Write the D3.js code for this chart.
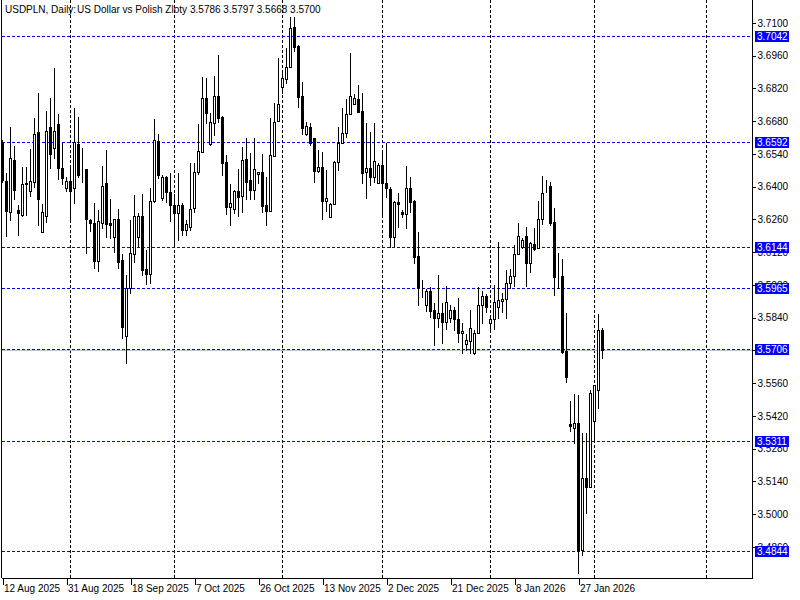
<!DOCTYPE html>
<html>
<head>
<meta charset="utf-8">
<script src="https://cdn.jsdelivr.net/npm/d3@7"></script>
<style>
  body { margin: 0; background: #fff; }
  svg { display: block; }
  text { font-family: "Liberation Sans", Arial, sans-serif; font-size: 10px; }
</style>
</head>
<body>
<div id="container"></div>
<script>
// daily bars, 12 Aug 2025 .. 3 Feb 2026 (broker shows Sunday bars)
const opens = [3.6587,3.6425,3.6292,3.6514,3.6301,3.6279,3.6412,3.6382,3.6420,3.6634,
  3.6207,3.6275,3.6656,3.6566,3.6668,3.6480,3.6395,3.6425,3.6395,3.6583,
  3.6467,3.6476,3.6258,3.6245,3.6083,3.6245,3.6416,3.6245,3.6185,3.6262,
  3.6087,3.5762,3.5967,3.6113,3.6185,3.6275,3.6048,3.6027,3.6339,3.6596,
  3.6352,3.6442,3.6378,3.6322,3.6288,3.6322,3.6215,3.6228,3.6309,3.6463,
  3.6549,3.6779,3.6583,3.6673,3.6788,3.6698,3.6506,3.6314,3.6305,3.6382,
  3.6360,3.6519,3.6429,3.6386,3.6454,3.6463,3.6322,3.6296,3.6532,3.6681,
  3.6826,3.6861,3.6912,3.7083,3.7002,3.6788,3.6626,3.6656,3.6608,3.6467,
  3.6485,3.6339,3.6271,3.6326,3.6506,3.6587,3.6630,3.6711,3.6754,3.6775,
  3.6724,3.6463,3.6480,3.6442,3.6416,3.6493,3.6416,3.6390,3.6185,3.6335,
  3.6292,3.6284,3.6395,3.6339,3.6104,3.5976,3.5895,3.5954,3.5873,3.5839,
  3.5860,3.5822,3.5839,3.5873,3.5835,3.5775,3.5728,3.5741,3.5690,3.5775,
  3.5895,3.5933,3.5818,3.5835,3.5886,3.5912,3.5920,3.5989,3.6019,3.6113,
  3.6143,3.6190,3.6074,3.6155,3.6138,3.6262,3.6403,3.6403,3.6249,3.6019,
  3.6019,3.5698,3.5384,3.5369,3.5390,3.4847,3.5155,3.5117,3.5399,3.5531,
  3.5786];
const highs = [3.6600,3.6459,3.6656,3.6574,3.6322,3.6485,3.6485,3.6561,3.6694,3.6801,
  3.6326,3.6724,3.6779,3.6908,3.6711,3.6587,3.6442,3.6480,3.6737,3.6698,
  3.6566,3.6476,3.6262,3.6331,3.6301,3.6489,3.6557,3.6348,3.6262,3.6305,
  3.6113,3.6023,3.6258,3.6365,3.6288,3.6369,3.6130,3.6395,3.6690,3.6626,
  3.6450,3.6445,3.6459,3.6369,3.6459,3.6331,3.6258,3.6502,3.6502,3.6668,
  3.6869,3.6865,3.6715,3.6874,3.6963,3.6701,3.6536,3.6412,3.6386,3.6476,
  3.6570,3.6608,3.6544,3.6608,3.6463,3.6540,3.6442,3.6694,3.6758,3.6950,
  3.6899,3.6993,3.7126,3.7126,3.7004,3.6848,3.6677,3.6673,3.6610,3.6557,
  3.6549,3.6472,3.6331,3.6508,3.6656,3.6737,3.6775,3.6972,3.6796,3.6835,
  3.6801,3.6673,3.6634,3.6673,3.6502,3.6557,3.6587,3.6399,3.6337,3.6373,
  3.6301,3.6489,3.6442,3.6341,3.6207,3.6001,3.5963,3.5972,3.5903,3.6023,
  3.5903,3.5976,3.5895,3.5886,3.5925,3.5818,3.5771,3.5873,3.5788,3.5972,
  3.5954,3.5942,3.5839,3.5980,3.6164,3.5946,3.6044,3.6048,3.6151,3.6245,
  3.6181,3.6228,3.6164,3.6224,3.6339,3.6446,3.6429,3.6420,3.6309,3.6117,
  3.6091,3.5860,3.5484,3.5514,3.5510,3.5348,3.5348,3.5531,3.5540,3.5856,
  3.5797];
const lows = [3.6420,3.6190,3.6258,3.6348,3.6194,3.6275,3.6279,3.6360,3.6399,3.6237,
  3.6207,3.6249,3.6480,3.6523,3.6433,3.6412,3.6382,3.6258,3.6331,3.6442,
  3.6420,3.6117,3.6211,3.6053,3.6040,3.6224,3.6185,3.6181,3.6121,3.6053,
  3.5754,3.5647,3.5946,3.6078,3.6147,3.6023,3.5984,3.5989,3.6335,3.6437,
  3.6343,3.6335,3.6254,3.6155,3.6172,3.6194,3.6194,3.6215,3.6292,3.6454,
  3.6547,3.6673,3.6580,3.6621,3.6677,3.6450,3.6284,3.6237,3.6288,3.6275,
  3.6292,3.6348,3.6348,3.6348,3.6416,3.6292,3.6237,3.6294,3.6530,3.6679,
  3.6801,3.6844,3.6910,3.6980,3.6741,3.6626,3.6621,3.6579,3.6420,3.6463,
  3.6262,3.6296,3.6269,3.6324,3.6472,3.6585,3.6613,3.6709,3.6752,3.6718,
  3.6416,3.6352,3.6408,3.6420,3.6414,3.6279,3.6356,3.6143,3.6147,3.6228,
  3.6271,3.6224,3.6292,3.6074,3.5895,3.5929,3.5869,3.5843,3.5724,3.5801,
  3.5732,3.5792,3.5822,3.5788,3.5736,3.5690,3.5702,3.5690,3.5685,3.5773,
  3.5818,3.5865,3.5788,3.5792,3.5839,3.5865,3.5839,3.5967,3.5976,3.6111,
  3.6138,3.5976,3.6036,3.6130,3.6136,3.6241,3.6378,3.6237,3.5937,3.5967,
  3.5690,3.5565,3.5356,3.5305,3.4749,3.4826,3.5006,3.5115,3.5309,3.5454,
  3.5668];
const closes = [3.6429,3.6296,3.6523,3.6386,3.6288,3.6412,3.6416,3.6425,3.6626,3.6348,
  3.6292,3.6638,3.6540,3.6638,3.6480,3.6437,3.6425,3.6382,3.6591,3.6450,
  3.6466,3.6262,3.6245,3.6083,3.6254,3.6403,3.6241,3.6237,3.6262,3.6078,
  3.5801,3.5967,3.6117,3.6275,3.6275,3.6044,3.6027,3.6339,3.6600,3.6450,
  3.6442,3.6378,3.6322,3.6288,3.6322,3.6215,3.6241,3.6305,3.6463,3.6553,
  3.6779,3.6715,3.6677,3.6788,3.6694,3.6502,3.6314,3.6331,3.6382,3.6356,
  3.6514,3.6420,3.6386,3.6476,3.6463,3.6318,3.6296,3.6536,3.6677,3.6754,
  3.6865,3.6912,3.7079,3.6997,3.6784,3.6651,3.6660,3.6587,3.6467,3.6485,
  3.6339,3.6352,3.6326,3.6506,3.6587,3.6630,3.6711,3.6788,3.6779,3.6720,
  3.6459,3.6480,3.6442,3.6510,3.6493,3.6416,3.6395,3.6185,3.6335,3.6326,
  3.6284,3.6395,3.6335,3.6100,3.5972,3.5974,3.5954,3.5869,3.5839,3.5860,
  3.5822,3.5907,3.5873,3.5835,3.5775,3.5784,3.5745,3.5796,3.5775,3.5895,
  3.5933,3.5886,3.5835,3.5907,3.5916,3.5920,3.5989,3.6019,3.6113,3.6190,
  3.6172,3.6074,3.6160,3.6134,3.6262,3.6373,3.6401,3.6245,3.6014,3.6017,
  3.5694,3.5587,3.5378,3.5390,3.4847,3.5155,3.5117,3.5518,3.5553,3.5788,
  3.5700];

// horizontal levels drawn on the chart
const levels = [3.7042, 3.6592, 3.6144, 3.5965, 3.5706, 3.5311, 3.4844];
const bid = 3.5700;

// price scale ticks
const yTicks = [3.7100,3.6960,3.6820,3.6680,3.6540,3.6400,3.6260,3.6120,3.5980,
  3.5840,3.5700,3.5560,3.5420,3.5280,3.5140,3.5000,3.4860];

// time labels (bar index) and month separators (bar index, Mar 1 in future area)
const dateBars = [0, 16, 32, 48, 64, 80, 96, 112, 128, 144];
const dateLabels = ["12 Aug 2025","31 Aug 2025","18 Sep 2025","7 Oct 2025","26 Oct 2025",
  "13 Nov 2025","2 Dec 2025","21 Dec 2025","8 Jan 2026","27 Jan 2026"];
const monthBars = [17, 43, 70, 95, 122, 148, 176];

const W = 800, H = 600;
const plotR = 752, plotB = 578;

const svg = d3.select("#container").append("svg")
  .attr("width", W).attr("height", H)
  .attr("shape-rendering", "crispEdges");

svg.append("rect").attr("width", W).attr("height", H).attr("fill", "#fff");

const x = d3.scaleLinear().domain([0, 1]).range([2, 6]);   // 4px per bar
const y = d3.scaleLinear().domain([3.4727, 3.7198]).range([plotB, 0]);
const py = v => Math.round(y(v));

// month separators
svg.append("g").selectAll("line")
  .data(monthBars).enter().append("line")
  .attr("x1", d => x(d) + 0.5).attr("x2", d => x(d) + 0.5)
  .attr("y1", 0).attr("y2", plotB)
  .attr("stroke", "#000").attr("stroke-dasharray", "3,2");

// level lines
svg.append("g").selectAll("line")
  .data(levels).enter().append("line")
  .attr("x1", 2).attr("x2", plotR)
  .attr("y1", d => py(d) + 0.5).attr("y2", d => py(d) + 0.5)
  .attr("stroke", "#0000ff").attr("stroke-dasharray", "3,2");

// bid line
svg.append("line")
  .attr("x1", 2).attr("x2", plotR)
  .attr("y1", py(bid) + 0.5).attr("y2", py(bid) + 0.5)
  .attr("stroke", "#c0c0c0");

const bars = d3.range(opens.length).map(i => ({
  i: i, o: opens[i], h: highs[i], l: lows[i], c: closes[i]
}));

const cg = svg.append("g");
cg.selectAll("line.wick")
  .data(bars).enter().append("line")
  .attr("class", "wick")
  .attr("x1", d => x(d.i) + 0.5).attr("x2", d => x(d.i) + 0.5)
  .attr("y1", d => py(d.h)).attr("y2", d => py(d.l) + 1)
  .attr("stroke", "#000");

cg.selectAll("rect.body")
  .data(bars).enter().append("rect")
  .attr("class", "body")
  .attr("x", d => x(d.i) - 0.5)
  .attr("y", d => Math.min(py(d.o), py(d.c)) + 0.5)
  .attr("width", 2)
  .attr("height", d => Math.max(0, Math.abs(py(d.o) - py(d.c))))
  .attr("fill", d => d.c >= d.o ? "#fff" : "#000")
  .attr("stroke", "#000");

// frame
svg.append("line").attr("x1", 1.5).attr("x2", 1.5).attr("y1", 0).attr("y2", plotB)
  .attr("stroke", "#000");

// price axis
const yAxis = svg.append("g")
  .attr("transform", `translate(${plotR + 0.5},0)`)
  .call(d3.axisRight(y).tickValues(yTicks).tickSize(3).tickPadding(2)
    .tickFormat(d3.format(".4f")));
yAxis.select(".domain").attr("d", `M0,0V${plotB}`).attr("stroke", "#000");
yAxis.selectAll("text").attr("fill", "#000").style("font-size", "10px")
  .style("font-family", "Liberation Sans, Arial, sans-serif");

// level labels
const lab = svg.append("g");
levels.forEach(v => {
  const yy = py(v);
  lab.append("rect").attr("x", 755).attr("y", yy - 5).attr("width", 34).attr("height", 11)
    .attr("fill", "#0000ff");
  lab.append("text").attr("x", 757).attr("y", yy + 4)
    .attr("fill", "#fff").text(v.toFixed(4));
});

// time axis
const xAxis = svg.append("g")
  .attr("transform", `translate(0.5,${plotB + 0.5})`)
  .call(d3.axisBottom(x).tickValues(dateBars).tickSize(6)
    .tickFormat((d, i) => dateLabels[i]));
xAxis.select(".domain").attr("d", `M1,0H${plotR}`).attr("stroke", "#000");
xAxis.selectAll("text").attr("text-anchor", "start").attr("x", 1).attr("dy", "0.71em")
  .attr("y", 6).attr("fill", "#000").style("font-size", "10px")
  .style("font-family", "Liberation Sans, Arial, sans-serif");

// title
svg.append("text").attr("x", 5).attr("y", 13).text("USDPLN, Daily:");
svg.append("text").attr("x", 77).attr("y", 13).text("US Dollar vs Polish Zloty");
svg.append("text").attr("x", 190).attr("y", 13).text("3.5786 3.5797 3.5668 3.5700");
</script>
</body>
</html>
